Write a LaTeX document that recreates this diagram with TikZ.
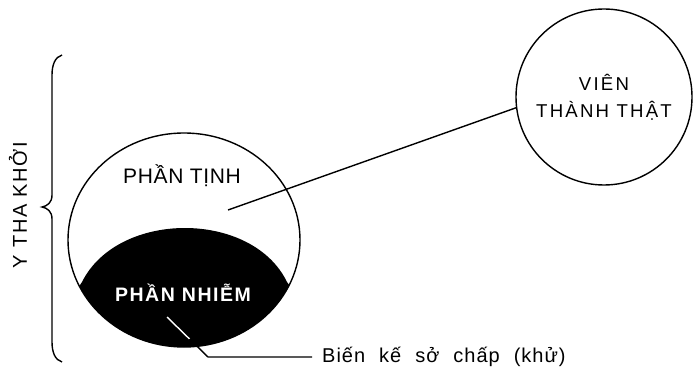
\documentclass[tikz,border=0pt]{standalone}
\usepackage{fontspec}
\setmainfont{Liberation Sans}
\usetikzlibrary{shapes.geometric,calc}
\tikzset{
  line/.style={line width=1.4pt},
  lab/.style={inner sep=0pt, align=center},
}
\begin{document}
\begin{tikzpicture}[x=1pt,y=-1pt]
\useasboundingbox (0,0) rectangle (695,374);
% big ellipse
\begin{scope}
  \clip (184,240) ellipse [x radius=116, y radius=107];
  \fill (70,300) -- (82,282) .. controls (118,210) and (252,210) .. (287,282) -- (300,300) -- (300,360) -- (70,360) -- cycle;
\end{scope}
\node[ellipse, draw, line, minimum width=232pt, minimum height=214pt, inner sep=0pt] (big) at (184,240) {};
% small circle
\node[circle, draw, line, minimum size=176pt, inner sep=0pt, align=center, font={\fontsize{18.6}{27}\selectfont\addfontfeatures{LetterSpace=12}}] (vien) at (604,97) {VIÊN\\THÀNH THẬT};
% labels
\node[lab, font={\fontsize{21}{24}\selectfont\addfontfeatures{LetterSpace=3}}] (tinh) at (182,176) {PHẦN TỊNH};
\node[lab, text=white, font={\bfseries\fontsize{19.5}{24}\selectfont\addfontfeatures{LetterSpace=8}}] (nhiem) at (183,293) {PHẦN NHIỄM};
\node[lab, rotate=90, font={\fontsize{20}{24}\selectfont\addfontfeatures{LetterSpace=8}}] (ytk) at (18,205) {Y THA KHỞI};
\node[lab, anchor=west, font={\fontsize{20}{24}\selectfont\addfontfeatures{LetterSpace=5}}] (bien) at (322,357) {\spaceskip=14pt\relax Biến kế sở chấp (khử)};
% connectors
\coordinate (p1) at (228,210);
\draw[line] (p1) -- (vien.187);
\coordinate (q1) at (167,317);
\coordinate (q2) at (208,357);
\coordinate (q3) at ($(q1)!0.55!(q2)$);
\draw[line, draw=white] (q1) -- (q3);
\draw[line] (q3) -- (q2) -- ([xshift=-10pt]bien.west);
% brace
\draw[line] (62,55) .. controls (55,57) and (52,65) .. (52,75) -- (52,195) .. controls (52,203) and (47,206) .. (42,207) .. controls (47,208) and (52,211) .. (52,219) -- (52,342) .. controls (52,352) and (55,360) .. (62,362);
\end{tikzpicture}
\end{document}
